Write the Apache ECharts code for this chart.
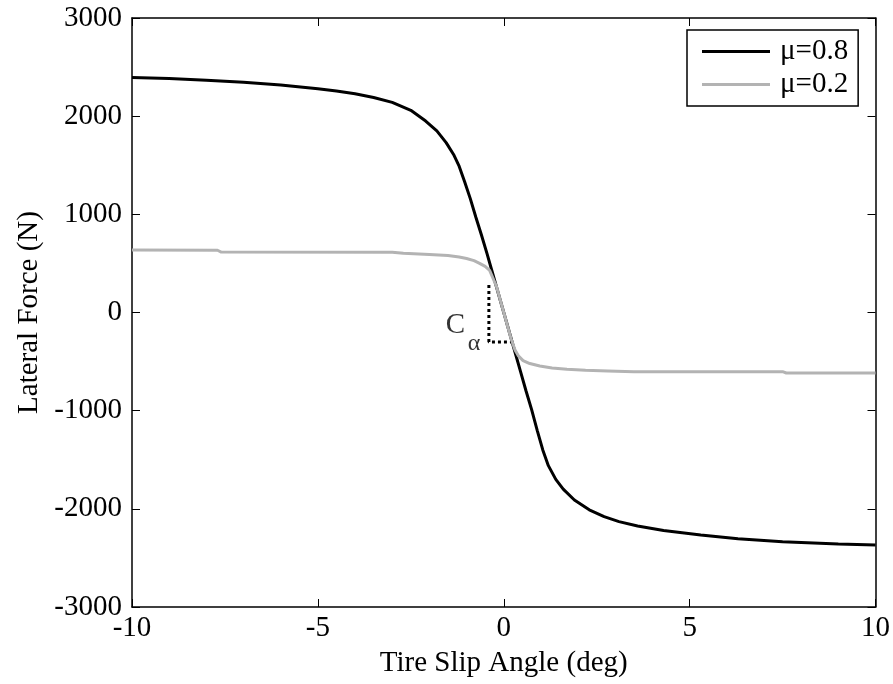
<!DOCTYPE html>
<html>
<head>
<meta charset="utf-8">
<script src="https://cdn.jsdelivr.net/npm/echarts@6/dist/echarts.min.js"></script>
<style>
  html, body { margin: 0; padding: 0; background: #fff; }
  #chart { width: 893px; height: 684px; }
</style>
</head>
<body>
<div id="chart"></div>
<script>
// slip angle (deg) / lateral force (N)
var slipHigh = [-10, -9, -8, -7, -6, -5, -4.5, -4, -3.5, -3, -2.5, -2.1, -1.8, -1.55, -1.35, -1.2, -1.05, -0.9, -0.75, -0.6, -0.45, -0.3, 0,
	0.3, 0.45, 0.6, 0.75, 0.9, 1.05, 1.2, 1.4, 1.6, 1.9, 2.3, 2.7, 3.1, 3.6, 4.3, 5.3, 6.3, 7.5, 9, 10]
var forceHigh = [2395, 2383, 2366, 2345, 2318, 2280, 2256, 2228, 2190, 2140, 2060, 1950, 1850, 1730, 1610, 1490, 1330, 1160, 970, 790, 600, 400, 0,
	-400, -600, -800, -990, -1200, -1400, -1560, -1700, -1800, -1910, -2010, -2080, -2130, -2175, -2221, -2266, -2305, -2335, -2357, -2368]
var slipLow = [-10, -7.7, -7.6, -3, -2.7, -2, -1.5, -1.2, -1, -0.8, -0.65, -0.5, -0.38, -0.2, 0,
	0.2, 0.3, 0.4, 0.52, 0.7, 0.97, 1.3, 1.7, 2.2, 2.8, 3.5, 7.5, 7.6, 10]
var forceLow = [636, 634, 616, 614, 603, 592, 580, 565, 550, 528, 501, 470, 430, 270, 0,
	-270, -380, -445, -490, -520, -545, -565, -579, -588, -595, -603, -603, -616, -616]
var seriesNames = ['\u03bc=0.8', '\u03bc=0.2']
var xTicks = [-10, 10, 5]      // min, max, interval
var yTicks = [-3000, 3000, 1000]
// slope marker corner points
var markX = [-0.4, -0.4, 0.24]
var markY = [280, -300, -300]

function pairs(xs, ys) {
	let out = []
	for (let i = 0; i < xs.length; i++) out.push([xs[i], ys[i]])
	return out
}
function plain(v) {
	return String(v)
}

let myChart = echarts.init(document.getElementById('chart'))
var font = 'Liberation Serif'
var hiddenAxis = {
	axisLine: { show: true, onZero: false, lineStyle: { color: '#000', width: 1.5 } },
	axisTick: { show: true, inside: true, length: 8, lineStyle: { color: '#000', width: 1 } },
	axisLabel: { show: false },
	splitLine: { show: false }
}

option = {
	animation: false,
	backgroundColor: '#fff',
	grid: { left: 132, top: 18, right: 17, bottom: 77 },
	legend: {
		orient: 'vertical',
		left: 687,
		top: 30,
		data: seriesNames,
		icon: 'rect',
		backgroundColor: '#fff',
		borderColor: '#000',
		borderWidth: 1.5,
		borderRadius: 0,
		padding: [7, 10, 7, 15],
		itemWidth: 68,
		itemHeight: 3,
		itemGap: 4,
		textStyle: { fontFamily: font, fontSize: 29, color: '#000', padding: [0, 0, 0, 5] }
	},
	xAxis: [{
		type: 'value',
		min: xTicks[0], max: xTicks[1], interval: xTicks[2],
		name: 'Tire Slip Angle (deg)',
		nameLocation: 'middle',
		nameGap: 42,
		nameMoveOverlap: false,
		nameTextStyle: { fontFamily: font, fontSize: 29, color: '#000' },
		axisLine: { show: true, onZero: false, lineStyle: { color: '#000', width: 1.5 } },
		axisTick: { show: true, inside: true, length: 8, lineStyle: { color: '#000' } },
		axisLabel: { fontFamily: font, fontSize: 29, color: '#000', margin: 7, formatter: plain },
		splitLine: { show: false }
	}, Object.assign({
		type: 'value', position: 'top',
		min: xTicks[0], max: xTicks[1], interval: xTicks[2]
	}, hiddenAxis)],
	yAxis: [{
		type: 'value',
		min: yTicks[0], max: yTicks[1], interval: yTicks[2],
		name: 'Lateral Force (N)',
		nameLocation: 'middle',
		nameGap: 88,
		nameMoveOverlap: false,
		nameTextStyle: { fontFamily: font, fontSize: 29, color: '#000' },
		axisLine: { show: true, onZero: false, lineStyle: { color: '#000', width: 1.5 } },
		axisTick: { show: true, inside: true, length: 8, lineStyle: { color: '#000' } },
		axisLabel: { fontFamily: font, fontSize: 29, color: '#000', margin: 10, formatter: plain },
		splitLine: { show: false }
	}, Object.assign({
		type: 'value', position: 'right',
		min: yTicks[0], max: yTicks[1], interval: yTicks[2]
	}, hiddenAxis)],
	series: [{
		name: seriesNames[0],
		type: 'line',
		data: pairs(slipHigh, forceHigh),
		symbol: 'none',
		lineStyle: { color: '#000', width: 3 },
		itemStyle: { color: '#000' },
		z: 3
	}, {
		name: seriesNames[1],
		type: 'line',
		data: pairs(slipLow, forceLow),
		symbol: 'none',
		lineStyle: { color: '#b3b3b3', width: 3 },
		itemStyle: { color: '#b3b3b3' },
		z: 4
	}, {
		type: 'line',
		data: pairs(markX, markY),
		symbol: 'none',
		lineStyle: { color: '#000', width: 3, type: [3, 3] },
		silent: true,
		z: 2
	}, {
		type: 'scatter',
		data: [[-1.3, -127]],
		symbolSize: 0,
		silent: true,
		label: {
			show: true, position: 'inside', formatter: 'C',
			fontFamily: font, fontSize: 29, color: '#000'
		}
	}, {
		type: 'scatter',
		data: [[-0.8, -321]],
		symbolSize: 0,
		silent: true,
		label: {
			show: true, position: 'inside', formatter: '\u03b1',
			fontFamily: font, fontSize: 24, color: '#000'
		}
	}]
}
myChart.setOption(option);
</script>
</body>
</html>
